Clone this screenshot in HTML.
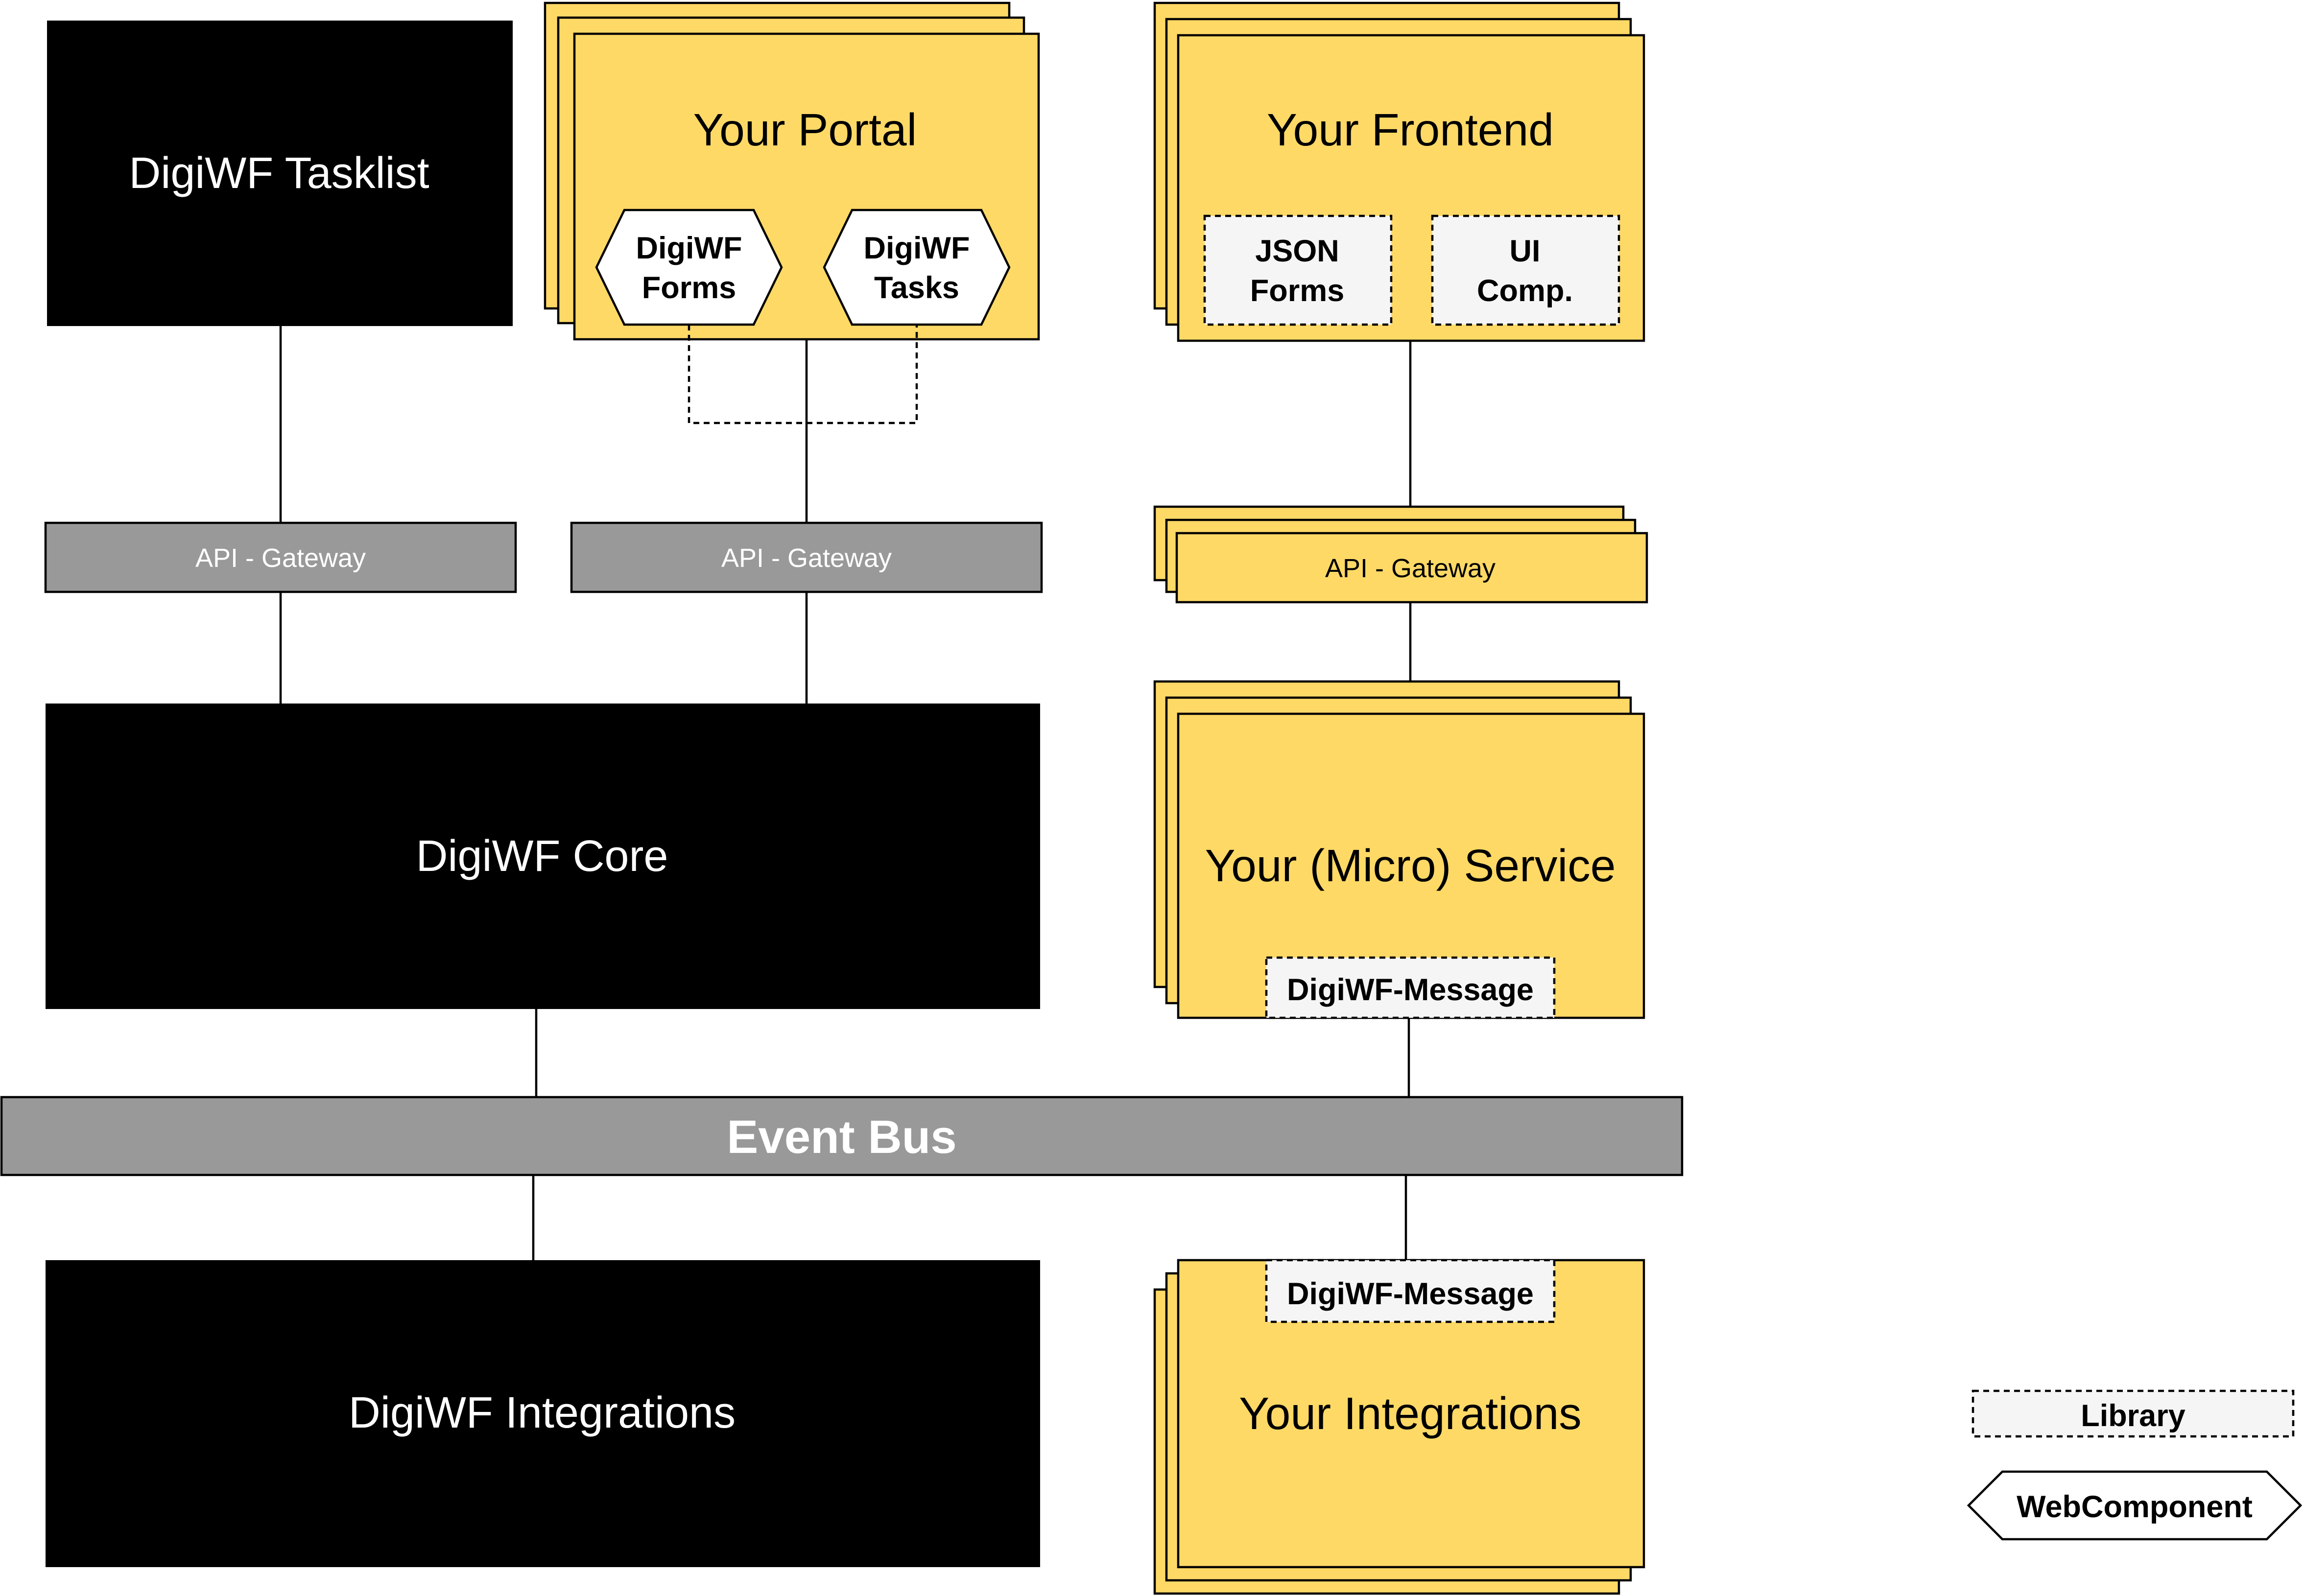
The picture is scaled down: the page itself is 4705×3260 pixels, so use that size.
<!DOCTYPE html>
<html><head><meta charset="utf-8"><style>
html,body{margin:0;padding:0;background:#fff;}
svg{display:block;}
text{font-family:"Liberation Sans",sans-serif;}
</style></head><body>
<svg width="4705" height="3260" viewBox="0 0 1568.33 1086.67" xmlns="http://www.w3.org/2000/svg">
<g stroke="#000" stroke-width="1.5" fill="none">
<line x1="191" y1="222" x2="191" y2="356"/>
<line x1="549" y1="231" x2="549" y2="356"/>
<line x1="191" y1="403" x2="191" y2="479"/>
<line x1="549" y1="403" x2="549" y2="479"/>
<line x1="960" y1="232" x2="960" y2="363"/>
<line x1="960" y1="410" x2="960" y2="486"/>
<line x1="959" y1="693" x2="959" y2="747"/>
<line x1="365" y1="687" x2="365" y2="747"/>
<line x1="363" y1="800" x2="363" y2="858"/>
<line x1="957" y1="800" x2="957" y2="858"/>
</g>
<!-- Tasklist -->
<rect x="32" y="14" width="317" height="208" fill="#000"/>
<text x="190" y="128" font-size="30" fill="#fff" text-anchor="middle">DigiWF Tasklist</text>
<!-- Portal -->
<g fill="#FFD966" stroke="#000" stroke-width="1.5">
<rect x="371" y="2" width="316" height="208"/>
<rect x="380" y="12" width="317" height="208"/>
<rect x="391" y="23" width="316" height="208"/>
</g>
<polyline points="469,221 469,288 624,288 624,221" stroke="#000" stroke-width="1.5" fill="none" stroke-dasharray="4,3"/>
<text x="548" y="99" font-size="31" text-anchor="middle">Your Portal</text>
<g fill="#fff" stroke="#000" stroke-width="1.5">
<polygon points="406,182 425,143 513,143 532,182 513,221 425,221"/>
<polygon points="561,182 580,143 668,143 687,182 668,221 580,221"/>
</g>
<g font-size="21" font-weight="bold" text-anchor="middle">
<text x="469" y="176">DigiWF</text><text x="469" y="203">Forms</text>
<text x="624" y="176">DigiWF</text><text x="624" y="203">Tasks</text>
</g>
<!-- Frontend -->
<g fill="#FFD966" stroke="#000" stroke-width="1.5">
<rect x="786" y="2" width="316" height="208"/>
<rect x="794" y="13" width="316" height="208"/>
<rect x="802" y="24" width="317" height="208"/>
</g>
<text x="960" y="99" font-size="31" text-anchor="middle">Your Frontend</text>
<g fill="#f5f5f5" stroke="#000" stroke-width="1.5" stroke-dasharray="4,3">
<rect x="820" y="147" width="127" height="74"/>
<rect x="975" y="147" width="127" height="74"/>
</g>
<g font-size="21" font-weight="bold" text-anchor="middle">
<text x="883" y="178">JSON</text><text x="883" y="205">Forms</text>
<text x="1038" y="178">UI</text><text x="1038" y="205">Comp.</text>
</g>
<!-- API gateways -->
<rect x="31" y="356" width="320" height="47" fill="#999" stroke="#000" stroke-width="1.5"/>
<rect x="389" y="356" width="320" height="47" fill="#999" stroke="#000" stroke-width="1.5"/>
<text x="191" y="386" font-size="18" fill="#fff" text-anchor="middle">API - Gateway</text>
<text x="549" y="386" font-size="18" fill="#fff" text-anchor="middle">API - Gateway</text>
<g fill="#FFD966" stroke="#000" stroke-width="1.5">
<rect x="786" y="345" width="319" height="50"/>
<rect x="794" y="354" width="319" height="49"/>
<rect x="801" y="363" width="320" height="47"/>
</g>
<text x="960" y="393" font-size="18" text-anchor="middle">API - Gateway</text>
<!-- Core -->
<rect x="31" y="479" width="677" height="208" fill="#000"/>
<text x="369" y="593" font-size="30" fill="#fff" text-anchor="middle">DigiWF Core</text>
<!-- Micro service -->
<g fill="#FFD966" stroke="#000" stroke-width="1.5">
<rect x="786" y="464" width="316" height="208"/>
<rect x="794" y="475" width="316" height="208"/>
<rect x="802" y="486" width="317" height="207"/>
</g>
<text x="960" y="600" font-size="31" text-anchor="middle">Your (Micro) Service</text>
<rect x="862" y="652" width="196" height="41" fill="#f5f5f5" stroke="#000" stroke-width="1.5" stroke-dasharray="4,3"/>
<text x="960" y="681" font-size="21" font-weight="bold" text-anchor="middle">DigiWF-Message</text>
<!-- Event Bus -->
<rect x="1" y="747" width="1144" height="53" fill="#999" stroke="#000" stroke-width="1.5"/>
<text x="573" y="785" font-size="32" font-weight="bold" fill="#fff" text-anchor="middle">Event Bus</text>
<!-- Integrations -->
<rect x="31" y="858" width="677" height="209" fill="#000"/>
<text x="369" y="972" font-size="30" fill="#fff" text-anchor="middle">DigiWF Integrations</text>
<g fill="#FFD966" stroke="#000" stroke-width="1.5">
<rect x="786" y="878" width="316" height="207"/>
<rect x="794" y="867" width="316" height="209"/>
<rect x="802" y="858" width="317" height="209"/>
</g>
<rect x="862" y="858" width="196" height="42" fill="#f5f5f5" stroke="#000" stroke-width="1.5" stroke-dasharray="4,3"/>
<text x="960" y="888" font-size="21" font-weight="bold" text-anchor="middle">DigiWF-Message</text>
<text x="960" y="973" font-size="31" text-anchor="middle">Your Integrations</text>
<!-- Legend -->
<rect x="1343" y="947" width="218" height="31" fill="#f5f5f5" stroke="#000" stroke-width="1.5" stroke-dasharray="4,3"/>
<text x="1452" y="971" font-size="21" font-weight="bold" text-anchor="middle">Library</text>
<polygon points="1340,1025 1363,1002 1543,1002 1566,1025 1543,1048 1363,1048" fill="#fff" stroke="#000" stroke-width="1.5"/>
<text x="1453" y="1033" font-size="21" font-weight="bold" text-anchor="middle">WebComponent</text>
</svg>
</body></html>
